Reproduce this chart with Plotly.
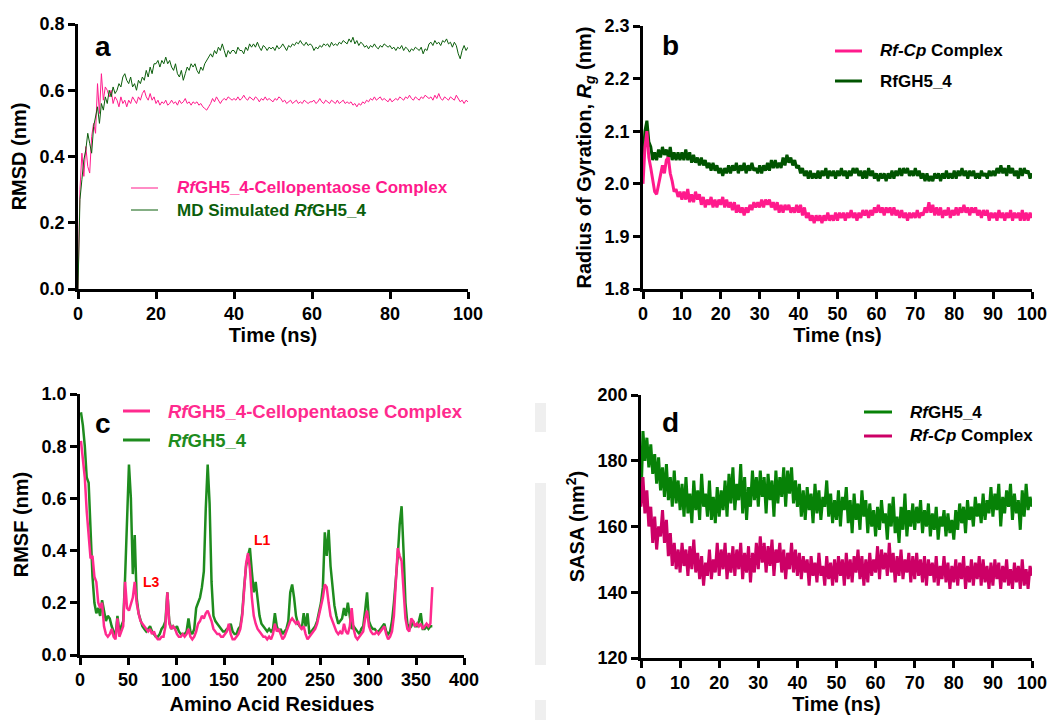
import numpy as np
import plotly.graph_objects as go

# ---------------------------------------------------------------
# Trajectory sampling grid (0.5 ns frames) and residue grid
# ---------------------------------------------------------------
time_ns = np.arange(0, 100.01, 0.5)
residues = list(range(1, 368, 2))

# (a) Backbone RMSD (nm)
rmsd_complex = [
    0.00, 0.30, 0.41, 0.34, 0.43, 0.37, 0.35, 0.46, 0.50, 0.47, 0.62, 0.53, 0.65, 0.57, 0.61, 0.60, 0.58, 0.60, 0.56, 0.58,
    0.57, 0.55, 0.58, 0.56, 0.57, 0.55, 0.57, 0.56, 0.58, 0.57, 0.56, 0.58, 0.57, 0.59, 0.60, 0.58, 0.57, 0.59, 0.57, 0.58,
    0.56, 0.57, 0.555, 0.565, 0.56, 0.57, 0.555, 0.56, 0.57, 0.56, 0.565, 0.555, 0.57, 0.56, 0.565, 0.575, 0.56, 0.565, 0.555, 0.565,
    0.56, 0.565, 0.555, 0.56, 0.55, 0.545, 0.54, 0.55, 0.56, 0.575, 0.565, 0.58, 0.57, 0.56, 0.57, 0.575, 0.57, 0.58, 0.575, 0.57,
    0.575, 0.57, 0.58, 0.57, 0.575, 0.585, 0.575, 0.57, 0.58, 0.575, 0.57, 0.58, 0.575, 0.565, 0.575, 0.57, 0.58, 0.57, 0.575, 0.57,
    0.565, 0.575, 0.57, 0.58, 0.575, 0.565, 0.57, 0.56, 0.565, 0.57, 0.56, 0.565, 0.57, 0.56, 0.565, 0.56, 0.57, 0.565, 0.56, 0.565,
    0.565, 0.57, 0.56, 0.565, 0.575, 0.565, 0.56, 0.57, 0.565, 0.56, 0.57, 0.565, 0.56, 0.57, 0.56, 0.565, 0.57, 0.56, 0.565, 0.56,
    0.565, 0.555, 0.56, 0.55, 0.56, 0.555, 0.565, 0.56, 0.57, 0.565, 0.575, 0.57, 0.58, 0.57, 0.575, 0.58, 0.57, 0.575, 0.57, 0.565,
    0.575, 0.565, 0.57, 0.575, 0.57, 0.58, 0.575, 0.57, 0.58, 0.575, 0.585, 0.575, 0.57, 0.58, 0.575, 0.57, 0.58, 0.575, 0.585, 0.58,
    0.575, 0.58, 0.57, 0.585, 0.575, 0.59, 0.575, 0.57, 0.58, 0.575, 0.57, 0.58, 0.575, 0.57, 0.585, 0.575, 0.565, 0.57, 0.56, 0.57,
    0.565,
]
rmsd_apo = [
    0.00, 0.27, 0.33, 0.39, 0.42, 0.47, 0.44, 0.41, 0.49, 0.52, 0.55, 0.50, 0.56, 0.54, 0.58, 0.56, 0.60, 0.58, 0.61, 0.59,
    0.60, 0.62, 0.61, 0.64, 0.65, 0.63, 0.62, 0.64, 0.61, 0.62, 0.60, 0.63, 0.62, 0.64, 0.63, 0.66, 0.64, 0.67, 0.65, 0.68,
    0.68, 0.69, 0.67, 0.69, 0.68, 0.70, 0.68, 0.69, 0.67, 0.66, 0.68, 0.65, 0.64, 0.66, 0.63, 0.65, 0.67, 0.66, 0.68, 0.67,
    0.68, 0.66, 0.65, 0.67, 0.66, 0.68, 0.69, 0.70, 0.71, 0.70, 0.72, 0.71, 0.73, 0.72, 0.74, 0.72, 0.70, 0.72, 0.71, 0.72,
    0.72, 0.71, 0.73, 0.72, 0.72, 0.71, 0.73, 0.72, 0.74, 0.73, 0.74, 0.73, 0.745, 0.73, 0.72, 0.735, 0.73, 0.72, 0.73, 0.725,
    0.73, 0.72, 0.735, 0.725, 0.73, 0.74, 0.73, 0.72, 0.735, 0.73, 0.74, 0.735, 0.745, 0.74, 0.75, 0.74, 0.735, 0.745, 0.735, 0.74,
    0.735, 0.72, 0.73, 0.725, 0.735, 0.73, 0.74, 0.735, 0.74, 0.73, 0.745, 0.735, 0.74, 0.735, 0.745, 0.74, 0.75, 0.745, 0.74, 0.755,
    0.745, 0.76, 0.74, 0.75, 0.735, 0.745, 0.74, 0.73, 0.735, 0.725, 0.735, 0.73, 0.74, 0.73, 0.725, 0.735, 0.73, 0.74, 0.735, 0.73,
    0.735, 0.725, 0.73, 0.72, 0.73, 0.725, 0.735, 0.72, 0.73, 0.725, 0.715, 0.725, 0.72, 0.73, 0.725, 0.72, 0.73, 0.71, 0.725, 0.72,
    0.74, 0.745, 0.735, 0.75, 0.74, 0.745, 0.735, 0.75, 0.745, 0.755, 0.74, 0.745, 0.73, 0.745, 0.735, 0.71, 0.695, 0.72, 0.735, 0.72,
    0.73,
]

# (b) Radius of gyration (nm)
rg_complex = [
    2.00, 2.07, 2.10, 2.05, 2.03, 2.01, 1.985, 1.98, 2.00, 2.02, 2.035, 2.02, 2.045, 2.05, 2.02, 2.005, 1.985, 1.99, 1.975, 1.985,
    1.97, 1.985, 1.97, 1.99, 1.965, 1.98, 1.965, 1.985, 1.97, 1.98, 1.96, 1.975, 1.955, 1.97, 1.96, 1.975, 1.955, 1.97, 1.955, 1.97,
    1.96, 1.975, 1.955, 1.97, 1.955, 1.965, 1.95, 1.965, 1.945, 1.96, 1.945, 1.955, 1.94, 1.955, 1.945, 1.96, 1.95, 1.965, 1.955, 1.965,
    1.955, 1.97, 1.955, 1.97, 1.96, 1.97, 1.955, 1.965, 1.95, 1.965, 1.945, 1.96, 1.945, 1.96, 1.95, 1.96, 1.945, 1.955, 1.945, 1.96,
    1.945, 1.96, 1.94, 1.955, 1.935, 1.945, 1.93, 1.94, 1.925, 1.94, 1.93, 1.94, 1.925, 1.94, 1.93, 1.945, 1.93, 1.94, 1.93, 1.945,
    1.93, 1.945, 1.935, 1.945, 1.93, 1.945, 1.935, 1.95, 1.935, 1.945, 1.93, 1.945, 1.935, 1.95, 1.94, 1.95, 1.935, 1.95, 1.94, 1.955,
    1.945, 1.96, 1.945, 1.955, 1.94, 1.955, 1.945, 1.955, 1.94, 1.955, 1.94, 1.95, 1.935, 1.95, 1.935, 1.945, 1.93, 1.945, 1.935, 1.945,
    1.935, 1.95, 1.935, 1.945, 1.94, 1.955, 1.945, 1.965, 1.945, 1.96, 1.94, 1.955, 1.94, 1.955, 1.935, 1.95, 1.94, 1.955, 1.935, 1.95,
    1.94, 1.955, 1.94, 1.955, 1.945, 1.96, 1.945, 1.955, 1.94, 1.955, 1.945, 1.955, 1.94, 1.95, 1.935, 1.95, 1.94, 1.95, 1.93, 1.945,
    1.935, 1.945, 1.93, 1.95, 1.935, 1.945, 1.93, 1.945, 1.935, 1.95, 1.93, 1.945, 1.935, 1.945, 1.93, 1.95, 1.93, 1.945, 1.93, 1.945,
    1.935,
]
rg_apo = [
    2.05, 2.10, 2.12, 2.08, 2.07, 2.045, 2.06, 2.045, 2.065, 2.05, 2.07, 2.055, 2.065, 2.05, 2.07, 2.045, 2.06, 2.045, 2.06, 2.045,
    2.06, 2.045, 2.065, 2.045, 2.06, 2.04, 2.055, 2.04, 2.05, 2.035, 2.05, 2.035, 2.045, 2.03, 2.04, 2.025, 2.04, 2.025, 2.035, 2.02,
    2.03, 2.015, 2.03, 2.02, 2.035, 2.02, 2.035, 2.025, 2.04, 2.02, 2.035, 2.025, 2.04, 2.02, 2.035, 2.025, 2.04, 2.025, 2.03, 2.02,
    2.035, 2.02, 2.035, 2.025, 2.04, 2.025, 2.045, 2.03, 2.045, 2.03, 2.04, 2.03, 2.05, 2.035, 2.055, 2.04, 2.05, 2.035, 2.045, 2.03,
    2.035, 2.02, 2.03, 2.015, 2.025, 2.01, 2.025, 2.01, 2.02, 2.01, 2.025, 2.01, 2.025, 2.015, 2.03, 2.01, 2.025, 2.015, 2.025, 2.01,
    2.025, 2.015, 2.03, 2.015, 2.025, 2.01, 2.025, 2.015, 2.03, 2.02, 2.03, 2.015, 2.025, 2.01, 2.025, 2.01, 2.03, 2.015, 2.025, 2.01,
    2.02, 2.005, 2.02, 2.01, 2.02, 2.005, 2.02, 2.01, 2.025, 2.01, 2.025, 2.015, 2.03, 2.015, 2.03, 2.02, 2.03, 2.015, 2.025, 2.015,
    2.03, 2.015, 2.025, 2.01, 2.02, 2.005, 2.02, 2.005, 2.015, 2.005, 2.02, 2.01, 2.02, 2.005, 2.02, 2.01, 2.025, 2.01, 2.02, 2.01,
    2.025, 2.01, 2.025, 2.015, 2.03, 2.015, 2.025, 2.01, 2.025, 2.015, 2.025, 2.01, 2.02, 2.01, 2.025, 2.015, 2.02, 2.01, 2.025, 2.015,
    2.025, 2.015, 2.03, 2.02, 2.035, 2.02, 2.03, 2.015, 2.035, 2.02, 2.03, 2.015, 2.025, 2.01, 2.03, 2.015, 2.03, 2.02, 2.025, 2.01,
    2.02,
]

# (c) Per-residue RMSF (nm)
rmsf_apo = [
    0.93, 0.88, 0.80, 0.68, 0.66, 0.45, 0.30, 0.20, 0.16, 0.18,
    0.15, 0.21, 0.17, 0.13, 0.15, 0.14, 0.11, 0.09, 0.07, 0.15,
    0.09, 0.11, 0.13, 0.30, 0.53, 0.73, 0.60, 0.31, 0.46, 0.22,
    0.16, 0.13, 0.11, 0.10, 0.09, 0.10, 0.11, 0.09, 0.08, 0.07,
    0.07, 0.08, 0.10, 0.11, 0.13, 0.24, 0.13, 0.10, 0.11, 0.10,
    0.11, 0.09, 0.08, 0.08, 0.08, 0.09, 0.14, 0.09, 0.08, 0.10,
    0.18, 0.20, 0.22, 0.26, 0.32, 0.56, 0.73, 0.58, 0.28, 0.15,
    0.13, 0.12, 0.11, 0.10, 0.09, 0.09, 0.10, 0.10, 0.12, 0.09,
    0.08, 0.08, 0.10, 0.11, 0.16, 0.26, 0.34, 0.38, 0.41, 0.32,
    0.24, 0.28, 0.20, 0.15, 0.12, 0.11, 0.10, 0.09, 0.10, 0.09,
    0.10, 0.16, 0.11, 0.09, 0.10, 0.08, 0.09, 0.10, 0.13, 0.24,
    0.27, 0.22, 0.15, 0.12, 0.11, 0.10, 0.16, 0.11, 0.16, 0.08,
    0.09, 0.10, 0.11, 0.13, 0.17, 0.20, 0.26, 0.47, 0.38, 0.48,
    0.34, 0.26, 0.19, 0.15, 0.12, 0.13, 0.14, 0.18, 0.15, 0.20,
    0.14, 0.10, 0.11, 0.10, 0.09, 0.08, 0.10, 0.11, 0.17, 0.24,
    0.13, 0.11, 0.10, 0.10, 0.09, 0.09, 0.10, 0.11, 0.12, 0.09,
    0.08, 0.09, 0.13, 0.20, 0.28, 0.38, 0.50, 0.57, 0.40, 0.20,
    0.12, 0.10, 0.11, 0.13, 0.11, 0.11, 0.13, 0.16, 0.10, 0.10,
    0.11, 0.10, 0.11, 0.11,
]
rmsf_complex = [
    0.82, 0.76, 0.68, 0.55, 0.46, 0.37, 0.38, 0.30, 0.28, 0.20,
    0.18, 0.20, 0.11, 0.08, 0.07, 0.08, 0.10, 0.07, 0.06, 0.14,
    0.07, 0.09, 0.11, 0.28, 0.18, 0.17, 0.20, 0.22, 0.28, 0.20,
    0.16, 0.13, 0.12, 0.11, 0.10, 0.09, 0.10, 0.08, 0.09, 0.07,
    0.06, 0.06, 0.07, 0.07, 0.11, 0.24, 0.12, 0.10, 0.11, 0.10,
    0.08, 0.07, 0.07, 0.08, 0.07, 0.08, 0.10, 0.07, 0.06, 0.07,
    0.09, 0.12, 0.13, 0.15, 0.14, 0.16, 0.17, 0.15, 0.13, 0.10,
    0.09, 0.08, 0.08, 0.07, 0.07, 0.08, 0.09, 0.12, 0.08, 0.06,
    0.06, 0.07, 0.08, 0.10, 0.15, 0.25, 0.35, 0.39, 0.33, 0.22,
    0.15, 0.12, 0.10, 0.09, 0.08, 0.07, 0.07, 0.06, 0.07, 0.06,
    0.08, 0.12, 0.09, 0.10, 0.08, 0.06, 0.07, 0.09, 0.11, 0.13,
    0.14, 0.13, 0.12, 0.13, 0.11, 0.10, 0.11, 0.08, 0.06, 0.07,
    0.08, 0.09, 0.10, 0.12, 0.15, 0.18, 0.22, 0.27, 0.26, 0.20,
    0.15, 0.13, 0.11, 0.09, 0.08, 0.09, 0.08, 0.12, 0.09, 0.08,
    0.11, 0.18, 0.10, 0.07, 0.06, 0.07, 0.08, 0.09, 0.14, 0.17,
    0.11, 0.09, 0.08, 0.08, 0.09, 0.08, 0.09, 0.10, 0.11, 0.08,
    0.06, 0.07, 0.09, 0.15, 0.28, 0.41, 0.38, 0.36, 0.25, 0.14,
    0.10, 0.09, 0.14, 0.13, 0.11, 0.12, 0.11, 0.12, 0.10, 0.11,
    0.12, 0.11, 0.12, 0.26,
]
loop_labels = ["L3", "L1"]
loop_pos = [(74, 0.28), (190, 0.44)]

# (d) Solvent accessible surface area (nm^2)
sasa_apo = [
    168, 189, 180, 187, 178, 185, 176, 182, 173, 181, 171, 178, 169, 179, 168, 175, 166, 177, 167, 174,
    165, 173, 163, 175, 164, 170, 161, 174, 165, 171, 162, 176, 166, 170, 163, 174, 162, 169, 161, 172,
    163, 171, 165, 174, 163, 176, 167, 178, 165, 173, 168, 179, 164, 175, 162, 172, 166, 177, 168, 175,
    166, 177, 169, 175, 164, 176, 168, 174, 163, 177, 167, 175, 169, 178, 166, 177, 170, 178, 167, 174,
    166, 173, 163, 171, 162, 172, 165, 170, 161, 173, 164, 171, 162, 169, 166, 174, 163, 170, 161, 168,
    162, 171, 160, 169, 165, 172, 161, 168, 158, 170, 162, 167, 159, 171, 163, 168, 158, 167, 160, 165,
    157, 166, 159, 168, 161, 164, 156, 167, 160, 169, 158, 163, 155, 166, 159, 170, 157, 165, 160, 167,
    159, 166, 161, 168, 158, 165, 160, 167, 157, 164, 159, 166, 156, 163, 160, 165, 157, 164, 158, 162,
    156, 165, 159, 167, 161, 166, 158, 168, 162, 166, 160, 169, 163, 167, 161, 170, 162, 168, 164, 172,
    163, 170, 165, 173, 160, 169, 164, 171, 166, 173, 162, 170, 164, 168, 159, 171, 163, 173, 165, 169,
    166,
]
sasa_complex = [
    166, 175, 164, 171, 160, 166, 155, 163, 153, 160, 157, 165, 155, 162, 151, 158, 148, 155, 147, 153,
    146, 155, 148, 153, 145, 154, 147, 156, 146, 152, 144, 151, 142, 149, 145, 153, 144, 150, 146, 155,
    145, 153, 147, 155, 144, 152, 146, 154, 145, 153, 147, 155, 144, 152, 146, 154, 143, 152, 146, 155,
    147, 157, 149, 155, 146, 154, 148, 156, 145, 153, 149, 155, 146, 153, 144, 152, 147, 155, 146, 153,
    145, 152, 144, 151, 146, 150, 142, 151, 145, 149, 143, 152, 145, 148, 142, 151, 144, 149, 142, 150,
    143, 151, 145, 150, 142, 152, 144, 150, 143, 151, 146, 153, 144, 151, 142, 150, 143, 152, 145, 150,
    146, 154, 144, 153, 147, 152, 145, 155, 146, 152, 143, 151, 145, 153, 144, 150, 146, 152, 143, 151,
    144, 152, 145, 150, 143, 151, 142, 150, 145, 149, 143, 151, 142, 148, 144, 151, 143, 149, 141, 148,
    143, 150, 142, 149, 144, 151, 141, 148, 143, 150, 142, 149, 144, 151, 142, 150, 143, 148, 141, 149,
    142, 150, 144, 149, 141, 148, 143, 150, 142, 147, 141, 149, 143, 148, 141, 150, 142, 147, 141, 148,
    145,
]

# ---------------------------------------------------------------
# Styling
# ---------------------------------------------------------------
W, H = 1057, 720
FONT = "Liberation Sans, Arial, sans-serif"

PINK_A, GREEN_A = "#FF1A8C", "#0B5E0B"
PINK_B, GREEN_B = "#FF1A8C", "#005400"
PINK_C, GREEN_C = "#FF2A8E", "#1E8C1E"
GREEN_D, PINK_D = "#078207", "#CC0066"


def px(x):
    return x / W


def py(y):
    return 1 - y / H


def axis_style(**kw):
    base = dict(
        showline=True, linewidth=2.5, linecolor="black",
        ticks="outside", ticklen=7, tickwidth=2.5, tickcolor="black",
        showgrid=False, zeroline=False, automargin=False,
        tickfont=dict(family=FONT, size=18, color="black", weight="bold"),
        title_font=dict(family=FONT, size=20, color="black", weight="bold"),
    )
    base.update(kw)
    return base


fig = go.Figure()

# (a) RMSD
fig.add_trace(go.Scatter(x=time_ns, y=rmsd_complex, mode="lines",
                         line=dict(color=PINK_A, width=1), xaxis="x", yaxis="y"))
fig.add_trace(go.Scatter(x=time_ns, y=rmsd_apo, mode="lines",
                         line=dict(color=GREEN_A, width=1), xaxis="x", yaxis="y"))
# (b) Rg
fig.add_trace(go.Scatter(x=time_ns, y=rg_apo, mode="lines",
                         line=dict(color=GREEN_B, width=3), xaxis="x2", yaxis="y2"))
fig.add_trace(go.Scatter(x=time_ns, y=rg_complex, mode="lines",
                         line=dict(color=PINK_B, width=3), xaxis="x2", yaxis="y2"))
# (c) RMSF
fig.add_trace(go.Scatter(x=residues, y=rmsf_apo, mode="lines",
                         line=dict(color=GREEN_C, width=2.5), xaxis="x3", yaxis="y3"))
fig.add_trace(go.Scatter(x=residues, y=rmsf_complex, mode="lines",
                         line=dict(color=PINK_C, width=2.5), xaxis="x3", yaxis="y3"))
# (d) SASA
fig.add_trace(go.Scatter(x=time_ns, y=sasa_apo, mode="lines",
                         line=dict(color=GREEN_D, width=3), xaxis="x4", yaxis="y4"))
fig.add_trace(go.Scatter(x=time_ns, y=sasa_complex, mode="lines",
                         line=dict(color=PINK_D, width=3), xaxis="x4", yaxis="y4"))

fig.update_traces(showlegend=False, hoverinfo="skip")

layout = dict(
    width=W, height=H, autosize=False,
    margin=dict(l=0, r=0, t=0, b=0),
    paper_bgcolor="white", plot_bgcolor="white",
    showlegend=False,
    xaxis=axis_style(domain=[px(78), px(468)], anchor="y", range=[0, 100],
                     tickvals=[0, 20, 40, 60, 80, 100],
                     title=dict(text="Time (ns)", standoff=4)),
    yaxis=axis_style(domain=[py(289), py(24)], anchor="x", range=[0, 0.8],
                     tickvals=[0, 0.2, 0.4, 0.6, 0.8], tickformat=".1f",
                     title=dict(text="RMSD (nm)", standoff=8)),
    xaxis2=axis_style(domain=[px(643), px(1032)], anchor="y2", range=[0, 100],
                      tickvals=list(range(0, 101, 10)),
                      title=dict(text="Time (ns)", standoff=4)),
    yaxis2=axis_style(domain=[py(289), py(26)], anchor="x2", range=[1.8, 2.3],
                      tickvals=[1.8, 1.9, 2.0, 2.1, 2.2, 2.3], tickformat=".1f",
                      title=dict(text="Radius of Gyration, <i>R</i><sub><i>g</i></sub> (nm)", standoff=8)),
    xaxis3=axis_style(domain=[px(80), px(464)], anchor="y3", range=[0, 400],
                      tickvals=list(range(0, 401, 50)),
                      title=dict(text="Amino Acid Residues", standoff=8)),
    yaxis3=axis_style(domain=[py(655), py(394)], anchor="x3", range=[0, 1.0],
                      tickvals=[0, 0.2, 0.4, 0.6, 0.8, 1.0], tickformat=".1f",
                      title=dict(text="RMSF (nm)", standoff=8)),
    xaxis4=axis_style(domain=[px(641), px(1032)], anchor="y4", range=[0, 100],
                      tickvals=list(range(0, 101, 10)),
                      title=dict(text="Time (ns)", standoff=4)),
    yaxis4=axis_style(domain=[py(658), py(395)], anchor="x4", range=[120, 200],
                      tickvals=[120, 140, 160, 180, 200],
                      title=dict(text="SASA (nm<sup>2</sup>)", standoff=8)),
)
fig.update_layout(**layout)

annotations = []
shapes = []

# faint grey scan strip between the lower panels
for y0, y1 in [(403, 432), (483, 665), (700, 720)]:
    shapes.append(dict(type="rect", xref="paper", yref="paper",
                       x0=px(535), x1=px(546), y0=py(y1), y1=py(y0),
                       fillcolor="#efefef", line=dict(width=0), layer="below"))

# panel letters
for letter, (x, y) in zip("abcd", [(103, 46), (670, 45), (103, 423), (670, 422)]):
    annotations.append(dict(text=letter, x=px(x), y=py(y), xref="paper", yref="paper",
                            showarrow=False, xanchor="center", yanchor="middle",
                            font=dict(family=FONT, size=28, color="black", weight="bold")))


def legend_entry(x0, x1, y, tx, text, line_color, text_color, width, size):
    shapes.append(dict(type="line", xref="paper", yref="paper",
                       x0=px(x0), x1=px(x1), y0=py(y), y1=py(y),
                       line=dict(color=line_color, width=width)))
    annotations.append(dict(text=text, x=px(tx), y=py(y), xref="paper", yref="paper",
                            showarrow=False, xanchor="left", yanchor="middle",
                            font=dict(family=FONT, size=size, color=text_color, weight="bold")))


legend_entry(131, 158, 188, 175, "<i>Rf</i>GH5_4-Cellopentaose Complex", PINK_A, PINK_A, 1, 17)
legend_entry(131, 158, 210, 175, "MD Simulated <i>Rf</i>GH5_4", GREEN_A, GREEN_A, 1, 17)

legend_entry(835, 862, 51, 878, "<i>Rf-Cp</i> Complex", PINK_B, "black", 3, 17)
legend_entry(835, 862, 81, 878, "RfGH5_4", GREEN_B, "black", 3, 17)

legend_entry(123, 150, 411, 166, "<i>Rf</i>GH5_4-Cellopentaose Complex", PINK_C, PINK_C, 3, 18.5)
legend_entry(123, 150, 440, 166, "<i>Rf</i>GH5_4", GREEN_C, GREEN_C, 3, 18.5)

legend_entry(864, 892, 412, 908, "<i>Rf</i>GH5_4", GREEN_D, "black", 3, 17)
legend_entry(864, 892, 436, 908, "<i>Rf-Cp</i> Complex", PINK_D, "black", 3, 17)

# loop labels on the RMSF panel
for lab, (rx, ry) in zip(loop_labels, loop_pos):
    annotations.append(dict(text=lab, x=rx, y=ry, xref="x3", yref="y3",
                            showarrow=False, xanchor="center", yanchor="middle",
                            font=dict(family=FONT, size=14, color="#FF0000", weight="bold")))

fig.update_layout(annotations=annotations, shapes=shapes)
fig.write_html("out.html")
